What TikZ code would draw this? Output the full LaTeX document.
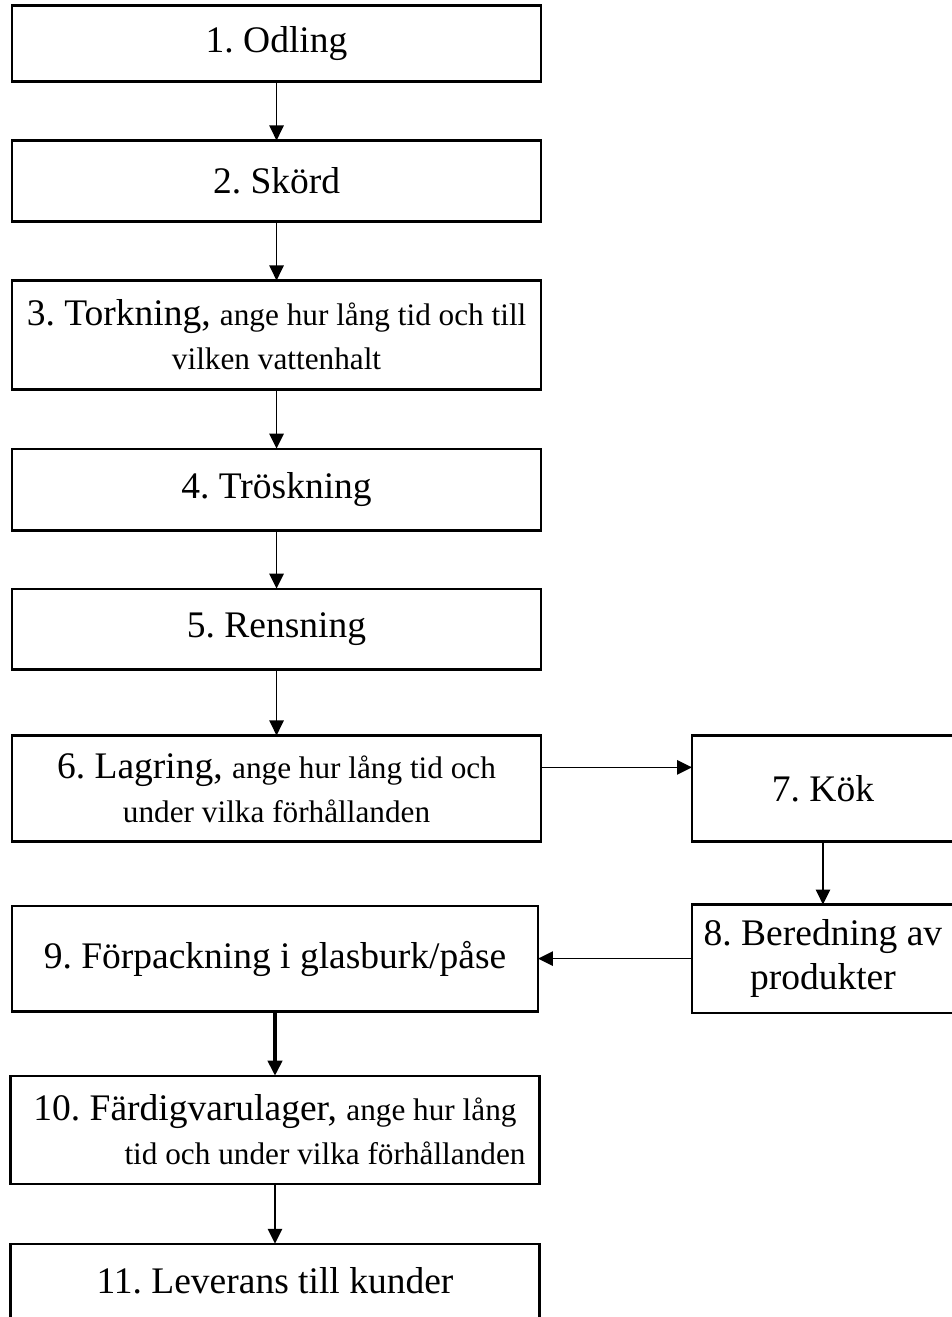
\documentclass[tikz,border=0pt]{standalone}
\usepackage{fontspec}
\setmainfont{Liberation Serif}
\usepackage{tikz}
\usetikzlibrary{arrows.meta, positioning}

\newcommand{\detail}[1]{{\fontsize{10}{14}\selectfont #1}}

\begin{document}
\frenchspacing
\begin{tikzpicture}[
  node distance=18.9pt and 48.3pt,
  box/.style={draw, line width=0.7pt, outer sep=0pt, minimum width=169.3pt, align=center,
    font=\fontsize{12}{14}\selectfont, inner sep=2pt},
  sidebox/.style={box, minimum width=83.8pt},
  arrow/.style={-{Triangle[length=4.8pt,width=4.6pt]}, line width=0.5pt}
]
\useasboundingbox[fill=white] (0,0) rectangle (304.64pt,-421.44pt);

% Nodes
\node[box, minimum height=24.3pt] (n1) at (88.5pt,-13.9pt) {1. Odling};
\node[box, minimum height=25.9pt, below=of n1] (n2) {2. Skörd};
\node[box, minimum height=34.9pt, below=of n2] (n3)
  {3. Torkning, \detail{ange hur lång tid och till}\\ \detail{vilken vattenhalt}};
\node[box, minimum height=26.2pt, below=of n3] (n4) {4. Tröskning};
\node[box, minimum height=25.9pt, below=18.6pt of n4] (n5) {5. Rensning};
\node[box, minimum height=33.9pt, below=21.1pt of n5] (n6)
  {6. Lagring, \detail{ange hur lång tid och}\\ \detail{under vilka förhållanden}};
\node[sidebox, minimum height=33.9pt, right=of n6] (n7) {7. Kök};
\node[sidebox, minimum height=34.6pt, below=20.2pt of n7] (n8) {8. Beredning av\\ produkter};
\node[box, minimum width=168.3pt, minimum height=33.9pt, left=49.3pt of n8] (n9)
  {9. Förpackning i glasburk/påse};
\node[box, minimum height=34.6pt, below=20.5pt of n9] (n10)
  {10. Färdigvarulager, \detail{ange hur lång}\\ \hspace*{32pt}\detail{tid och under vilka förhållanden}};
\node[box, minimum height=23.7pt, below=19.2pt of n10] (n11) {11. Leverans till kunder};

% Pointers
\draw[arrow] (n1) -- (n2);
\draw[arrow] (n2) -- (n3);
\draw[arrow] (n3) -- (n4);
\draw[arrow] (n4) -- (n5);
\draw[arrow] (n5) -- (n6);
\draw[arrow] ([yshift=-10.2pt]n6.north east) -- ([yshift=-10.2pt]n7.north west);
\draw[arrow] (n7) -- (n8);
\draw[arrow] (n8) -- (n9);
\draw[arrow, line width=1pt] (n9.south) -- (n9.south |- n10.north);
\draw[arrow] (n10) -- (n11);
\end{tikzpicture}
\end{document}
